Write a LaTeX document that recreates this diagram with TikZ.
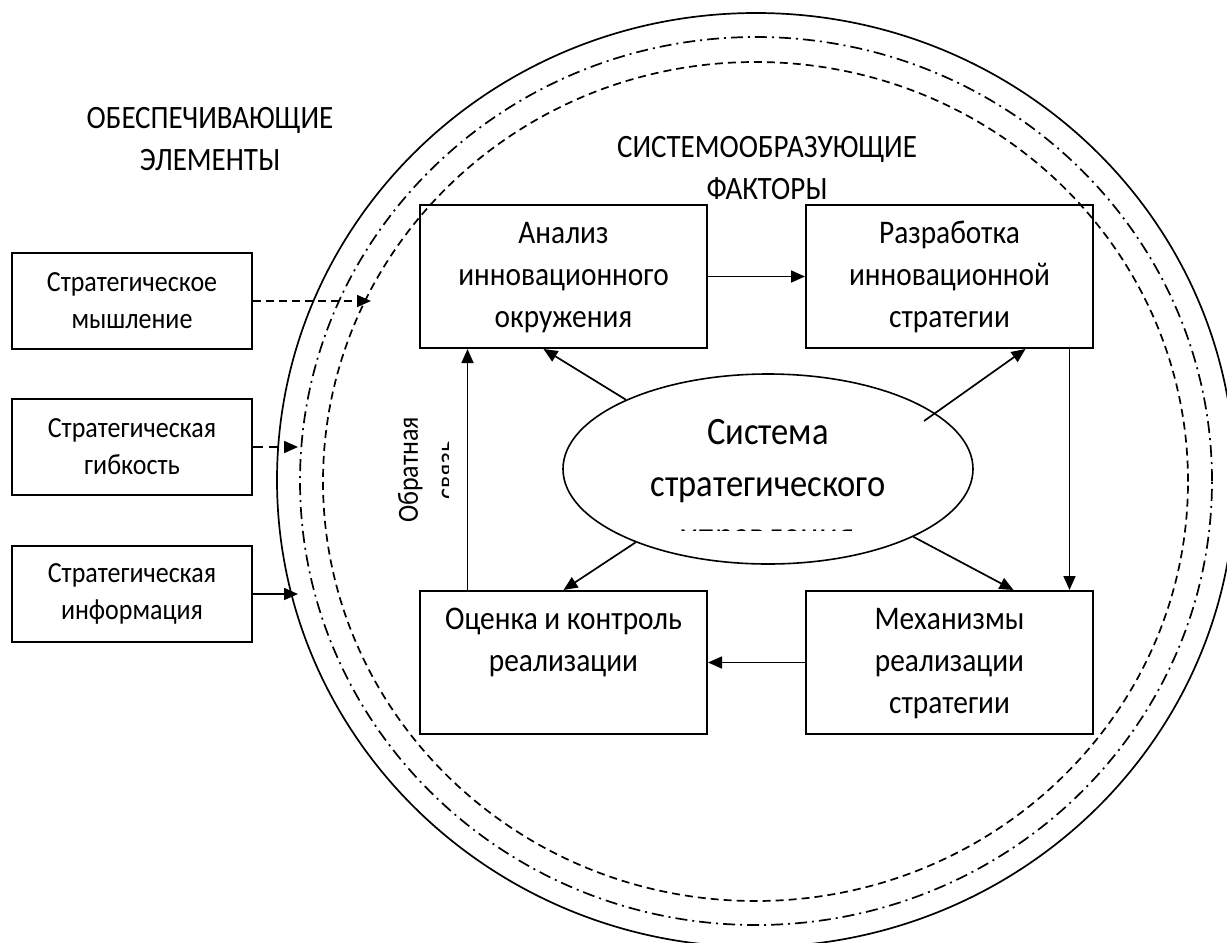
\documentclass[tikz,border=0pt]{standalone}
\usepackage{fontspec}
\setmainfont{Carlito}[FakeStretch=0.89]
\usetikzlibrary{shapes.geometric,arrows.meta,positioning,calc}

\newcommand{\boxtxt}[1]{\parbox[c][143pt][t]{287pt}{\centering\vspace*{9pt}\strut#1}}

\begin{document}
\begin{tikzpicture}[
  x=1pt, y=-1pt,
  every node/.style={font=\fontsize{32.6}{42}\selectfont},
  fbox/.style={draw, line width=2pt, minimum width=287pt, minimum height=143pt, inner sep=0pt, font=\fontsize{33}{42}\selectfont},
  ebox/.style={draw, line width=2pt, minimum width=240pt, minimum height=96pt, align=center, font=\fontsize{29.2}{37}\selectfont},
  arrow/.style={-{Triangle[length=14pt,width=12pt]}, line width=1.7pt},
  darrow/.style={arrow, dash pattern=on 8pt off 5pt},
  ring/.style={line width=1.7pt}
]
  \useasboundingbox (0,0) rectangle (1227,943);

  \draw[ring] (756,480) ellipse [x radius=479pt, y radius=467pt];
  \draw[ring, dash pattern=on 12pt off 5pt on 2pt off 5pt] (756,481) ellipse [x radius=456pt, y radius=444pt];
  \draw[ring, dash pattern=on 8pt off 5pt] (755.5,481.5) ellipse [x radius=432.5pt, y radius=419.5pt];

  \node[align=center] (oe) at (210,139) {ОБЕСПЕЧИВАЮЩИЕ\\ЭЛЕМЕНТЫ};
  \node[align=center] (sf) at (767,168.5) {СИСТЕМООБРАЗУЮЩИЕ\\ФАКТОРЫ};

  \node[fbox] (an) at (563.5,276.5) {\boxtxt{Анализ\\инновационного\\окружения}};
  \node[fbox, right=97pt of an] (raz) {\boxtxt{Разработка\\инновационной\\стратегии}};
  \node[fbox, below=241pt of an] (ocen) {\boxtxt{Оценка и контроль\\реализации}};
  \node[fbox, below=241pt of raz] (mech) {\boxtxt{Механизмы\\реализации\\стратегии}};

  \node[ebox] (s1) at (132,301) {Стратегическое\\мышление};
  \node[ebox, below=48pt of s1] (s2) {Стратегическая\\гибкость};
  \node[ebox, below=49pt of s2] (s3) {Стратегическая\\информация};

  \node[ellipse, draw, line width=1.6pt, minimum width=410pt, minimum height=190pt] (sys) at (768,469) {};
  \begin{scope}
    \clip (560,370) rectangle (980,530);
    \node[align=center, font=\fontsize{38.8}{52}\selectfont] (systxt) at (768,487) {Система\\стратегического\\управления};
  \end{scope}
  \begin{scope}
    \clip (380,400) rectangle (448,540);
    \node[rotate=90, align=center, font=\fontsize{29.2}{38}\selectfont] (fb) at (427,470) {Обратная\\связь};
  \end{scope}

  \coordinate (e1) at (371,0);
  \coordinate (e2) at (298,0);

  \draw[arrow] (an) -- (raz);
  \draw[arrow] ([xshift=120pt]raz.south) -- ([xshift=120pt]mech.north);
  \draw[arrow] (mech) -- (ocen);
  \draw[arrow] ([xshift=-96pt]ocen.north) -- ([xshift=-96pt]an.south);

  \draw[arrow] (sys.154) -- ([xshift=-20pt]an.south);
  \draw[arrow] ($(sys.center)+(156,-48)$) -- ([xshift=76pt]raz.south);
  \draw[arrow] (sys.209) -- (ocen.north);
  \draw[arrow] (sys.335) -- ([xshift=64pt]mech.north);

  \draw[darrow] (s1) -- (s1 -| e1);
  \draw[arrow, dash pattern=on 10pt off 6pt] (s2) -- (s2 -| e2);
  \draw[arrow] (s3) -- (s3 -| e2);
\end{tikzpicture}
\end{document}
